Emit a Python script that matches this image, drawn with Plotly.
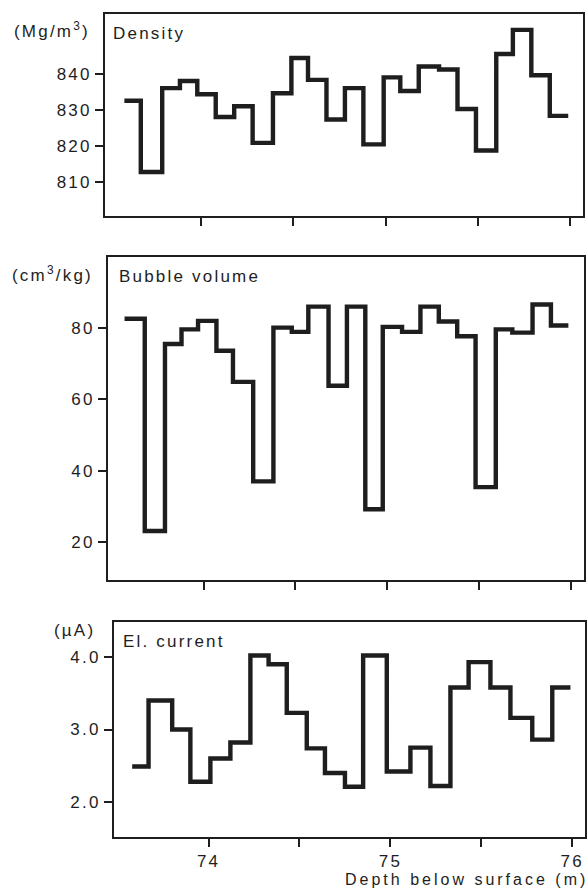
import plotly.graph_objects as go

# ---------------- data ----------------
density_bounds = [73.585, 73.674, 73.79, 73.886, 73.98, 74.08, 74.18, 74.28, 74.39, 74.49,
                  74.58, 74.68, 74.78, 74.88, 74.99, 75.08, 75.18, 75.29, 75.39, 75.49,
                  75.60, 75.69, 75.79, 75.89, 75.99]
density_vals = [832.5, 812.7, 836.0, 838.0, 834.3, 828.0, 831.0, 820.8, 834.6, 844.4,
                838.3, 827.3, 836.0, 820.4, 839.0, 835.2, 842.0, 841.2, 830.2, 818.7,
                845.5, 852.2, 839.6, 828.3]

bubble_bounds = [73.57, 73.68, 73.79, 73.88, 73.97, 74.07, 74.16, 74.27, 74.38, 74.48,
                 74.57, 74.68, 74.78, 74.88, 74.975, 75.08, 75.18, 75.28, 75.38, 75.48,
                 75.59, 75.68, 75.79, 75.89, 75.985]
bubble_vals = [82.6, 23.1, 75.5, 79.6, 82.0, 73.6, 64.9, 37.0, 80.1, 78.9,
               86.0, 63.8, 86.0, 29.2, 80.3, 78.9, 86.0, 81.8, 77.7, 35.4,
               79.6, 78.7, 86.6, 80.7]

current_bounds = [73.58, 73.67, 73.80, 73.90, 74.01, 74.12, 74.23, 74.33, 74.43, 74.54,
                  74.64, 74.75, 74.85, 74.98, 75.11, 75.22, 75.33, 75.43, 75.55, 75.66,
                  75.78, 75.89, 75.99]
current_vals = [2.49, 3.40, 3.00, 2.28, 2.60, 2.82, 4.02, 3.90, 3.23, 2.74,
                2.40, 2.21, 4.02, 2.42, 2.75, 2.22, 3.58, 3.93, 3.58, 3.16,
                2.86, 3.58]

x_major_ticks = [74, 75, 76]
x_major_text = ["74", "75", "76"]
x_minor_ticks = [74.5, 75.5]
density_ticks = [810, 820, 830, 840]
bubble_ticks = [20, 40, 60, 80]
current_ticks = [2, 3, 4]
current_ticktext = ["2.0", "3.0", "4.0"]

# ---------------- style ----------------
INK = "#1e1e1e"
FONT = "Liberation Sans, Arial, sans-serif"
FS = 17


def ls(s, sp=2.2):
    return f'<span style="letter-spacing:{sp}px">{s}</span>'


def step_xy(bounds, vals):
    return list(bounds), list(vals) + [vals[-1]]


W, H = 587, 889
fig = go.Figure()

panels = [
    ("x", "y", density_bounds, density_vals),
    ("x2", "y2", bubble_bounds, bubble_vals),
    ("x3", "y3", current_bounds, current_vals),
]
for xa, ya, b, v in panels:
    xs, ys = step_xy(b, v)
    fig.add_trace(go.Scatter(x=xs, y=ys, mode="lines", line=dict(shape="hv", color=INK, width=4.4),
                             xaxis=xa, yaxis=ya, showlegend=False, hoverinfo="skip"))


def px_x(a, b):
    return [a / W, b / W]


def px_y(top, bottom):
    return [1 - bottom / H, 1 - top / H]


common_x = dict(range=[73.48, 76.07], showgrid=False, zeroline=False, showline=True, linewidth=2,
                linecolor=INK, mirror=True, ticks="outside", ticklen=8, tickwidth=2, tickcolor=INK,
                tickvals=x_major_ticks, ticktext=[ls(t) for t in x_major_text],
                minor=dict(tickvals=x_minor_ticks, ticks="outside", ticklen=8, tickwidth=2,
                           tickcolor=INK, showgrid=False),
                tickfont=dict(family=FONT, size=FS, color=INK))
common_y = dict(showgrid=False, zeroline=False, showline=True, linewidth=2, linecolor=INK,
                mirror=True, ticks="outside", ticklen=8, tickwidth=2, tickcolor=INK,
                tickfont=dict(family=FONT, size=FS, color=INK))

fig.update_layout(
    width=W, height=H,
    margin=dict(l=0, r=0, t=0, b=0),
    paper_bgcolor="#ffffff", plot_bgcolor="#ffffff",
    xaxis=dict(common_x, domain=px_x(105, 583), anchor="y", showticklabels=False),
    yaxis=dict(common_y, domain=px_y(14, 216), anchor="x", range=[800.5, 856.6],
               tickvals=density_ticks, ticktext=[ls(str(t)) for t in density_ticks]),
    xaxis2=dict(common_x, domain=px_x(108, 584), anchor="y2", showticklabels=False),
    yaxis2=dict(common_y, domain=px_y(257, 580), anchor="x2", range=[9.35, 99.9],
                tickvals=bubble_ticks, ticktext=[ls(str(t)) for t in bubble_ticks]),
    xaxis3=dict(common_x, domain=px_x(114, 585), anchor="y3"),
    yaxis3=dict(common_y, domain=px_y(622, 837), anchor="x3", range=[1.517, 4.483],
                tickvals=current_ticks, ticktext=[ls(t) for t in current_ticktext]),
)


def ann(text, x, y, xanchor, size=FS, sp=2.2):
    fig.add_annotation(text=ls(text, sp), x=x / W, y=1 - y / H, xref="paper", yref="paper",
                       xanchor=xanchor, yanchor="middle", showarrow=False,
                       font=dict(family=FONT, size=size, color=INK))


ann("(Mg/m<sup>3</sup>)", 92, 30, "right")
ann("Density", 111, 33, "left")
ann("(cm<sup>3</sup>/kg)", 95, 274, "right")
ann("Bubble volume", 117, 276, "left")
ann("(µA)", 97, 630, "right")
ann("El. current", 121, 641, "left")
ann("Depth below surface (m)", 343, 879, "left", size=16, sp=3.0)

fig.write_html("out.html")
